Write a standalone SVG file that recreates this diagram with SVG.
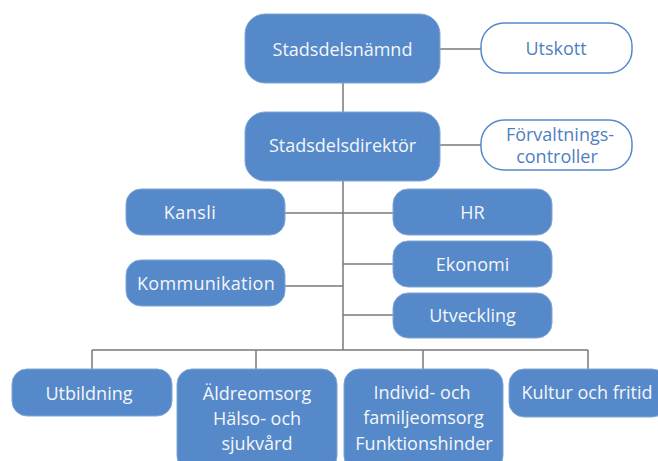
<svg xmlns="http://www.w3.org/2000/svg" width="658" height="461" viewBox="0 0 658 461">
<style>
.b{fill:#5689C9;stroke:#7FA6D8;stroke-width:1}
.w{fill:#ffffff;stroke:#5689C9;stroke-width:1.5}
.t{font-family:"Open Sans","Liberation Sans",sans-serif;font-size:18px;fill:#F4F6FA;text-anchor:middle}
.tb{font-family:"Open Sans","Liberation Sans",sans-serif;font-size:18px;fill:#4F7FC0;text-anchor:middle}
.c{stroke:#7a7a7a;stroke-width:1.5;fill:none}
</style>
<rect width="658" height="461" fill="#ffffff"/>
<g id="connectors">
<path class="c" d="M440 49H481M440 145H481M343 83V112M343 181V350M92 350H588M92 350V369M256 350V369M423 350V369M588 350V369M343 213H393M343 264H393M343 315H393M285 213H343M285 286H343"/>
</g>
<g id="stadsdelsnamnd"><rect class="b" x="245" y="14" width="195" height="69" rx="20"/><text class="t" x="342.5" y="56">Stadsdelsnämnd</text></g>
<g id="utskott"><rect class="w" x="481" y="23" width="151" height="50" rx="23"/><text class="tb" x="556" y="55">Utskott</text></g>
<g id="stadsdelsdirektor"><rect class="b" x="245" y="112" width="195" height="69" rx="20"/><text class="t" x="342.5" y="152">Stadsdelsdirektör</text></g>
<g id="forvaltningscontroller"><rect class="w" x="481" y="120" width="151" height="50" rx="23"/><text class="tb" x="560" y="141">Förvaltnings-</text><text class="tb" x="557" y="163">controller</text></g>
<g id="kansli"><rect class="b" x="126" y="189" width="159" height="46" rx="15"/><text class="t" x="190" y="219" letter-spacing="0.5">Kansli</text></g>
<g id="kommunikation"><rect class="b" x="126" y="260" width="159" height="46" rx="15"/><text class="t" x="206" y="290" letter-spacing="0.3">Kommunikation</text></g>
<g id="hr"><rect class="b" x="393" y="189" width="159" height="46" rx="15"/><text class="t" x="472.5" y="219">HR</text></g>
<g id="ekonomi"><rect class="b" x="393" y="241" width="159" height="46" rx="15"/><text class="t" x="472.5" y="271">Ekonomi</text></g>
<g id="utveckling"><rect class="b" x="393" y="293" width="159" height="45" rx="15"/><text class="t" x="472.5" y="322">Utveckling</text></g>
<g id="utbildning"><rect class="b" x="12" y="369" width="160" height="47" rx="15"/><text class="t" x="89" y="400">Utbildning</text></g>
<g id="aldreomsorg"><rect class="b" x="177" y="369" width="160" height="102" rx="15"/><text class="t" x="257" y="400">Äldreomsorg</text><text class="t" x="257" y="425">Hälso- och</text><text class="t" x="257" y="450">sjukvård</text></g>
<g id="individ"><rect class="b" x="344" y="369" width="159" height="102" rx="15"/><text class="t" x="422" y="399">Individ- och</text><text class="t" x="423.5" y="424">familjeomsorg</text><text class="t" x="424" y="450">Funktionshinder</text></g>
<g id="kultur"><rect class="b" x="509" y="369" width="158" height="48" rx="15"/><text class="t" x="587" y="399">Kultur och fritid</text></g>
</svg>
